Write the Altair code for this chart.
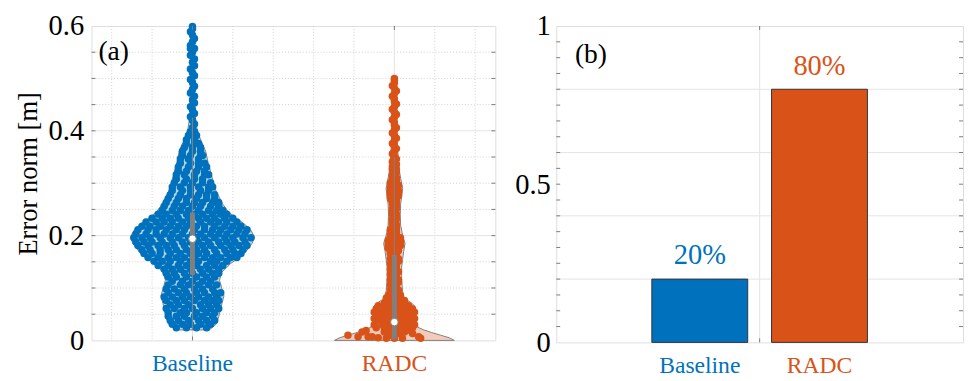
import altair as alt
import pandas as pd

BLUE = "#0072BD"
ORANGE = "#D95319"
BLUE_LIGHT = "#B3D5EB"
ORANGE_LIGHT = "#F4CBBA"
GRAY = "#808080"
FRAME = "#7a7a7a"
GRID = "#e3e3e3"
MINOR = "#cfcfcf"
FONT = "Liberation Serif"

groups = ["Baseline", "RADC"]
group_pos = [1, 2]
group_colors = [BLUE, ORANGE]
group_light = [BLUE_LIGHT, ORANGE_LIGHT]

# violin outlines (y level, half width in x units)
base_outline_y = [0.02, 0.03, 0.045, 0.07, 0.085, 0.10, 0.115, 0.13, 0.147, 0.16, 0.172, 0.185,
                  0.197, 0.21, 0.222, 0.235, 0.247, 0.26, 0.285, 0.30, 0.322, 0.34, 0.36, 0.375,
                  0.39, 0.405, 0.422, 0.45, 0.5, 0.55, 0.6]
base_outline_hw = [0.083, 0.115, 0.13, 0.146, 0.156, 0.145, 0.134, 0.145, 0.19, 0.24, 0.27, 0.295,
                   0.307, 0.29, 0.258, 0.21, 0.175, 0.15, 0.117, 0.105, 0.09, 0.077, 0.066, 0.05,
                   0.033, 0.022, 0.015, 0.012, 0.011, 0.011, 0.01]
radc_outline_y = [0.0, 0.005, 0.01, 0.015, 0.02, 0.025, 0.035, 0.05, 0.065, 0.072, 0.078, 0.085,
                  0.10, 0.12, 0.14, 0.155, 0.17, 0.185, 0.20, 0.22, 0.24, 0.26, 0.28, 0.29, 0.30,
                  0.32, 0.35, 0.38, 0.42, 0.5]
radc_outline_hw = [0.297, 0.272, 0.229, 0.185, 0.146, 0.117, 0.107, 0.102, 0.102, 0.083, 0.058,
                   0.044, 0.039, 0.036, 0.036, 0.041, 0.046, 0.053, 0.041, 0.031, 0.029, 0.031,
                   0.038, 0.041, 0.036, 0.026, 0.019, 0.014, 0.012, 0.009]

# scatter samples: (error norm, horizontal offsets in hundredths of a category)
base_rows = [
    (0.024, [-8, -3, 2, 7]), (0.031, [-10, -5, -1, 4, 9]), (0.038, [-11, -7, -2, 3, 7, 11]),
    (0.046, [-12, -8, -4, 1, 5, 10]), (0.053, [-12, -6, -3, 2, 7, 11]),
    (0.061, [-13, -9, -4, 0, 5, 9, 13]), (0.068, [-11, -7, -2, 4, 8, 12]),
    (0.076, [-13, -8, -4, 1, 6, 10, 13]), (0.083, [-14, -10, -5, -1, 3, 8, 12]),
    (0.091, [-12, -7, -3, 2, 6, 11, 14]), (0.098, [-13, -9, -4, 1, 5, 10]),
    (0.106, [-12, -6, -2, 3, 8, 12]), (0.113, [-10, -5, 0, 5, 9]),
    (0.121, [-12, -8, -3, 2, 7, 11]), (0.128, [-13, -9, -4, 0, 5, 10, 13]),
    (0.136, [-14, -10, -6, -1, 4, 8, 13]), (0.143, [-17, -12, -7, -3, 2, 7, 11, 15]),
    (0.151, [-19, -15, -11, -6, -1, 3, 9, 12, 17]),
    (0.158, [-22, -17, -12, -8, -4, 1, 6, 10, 14, 19, 22]),
    (0.166, [-24, -20, -16, -11, -6, -1, 3, 7, 12, 17, 21, 24]),
    (0.173, [-25, -21, -16, -12, -8, -3, 2, 6, 11, 16, 20, 25]),
    (0.181, [-27, -22, -17, -13, -9, -4, 1, 5, 9, 14, 19, 23, 27]),
    (0.188, [-28, -24, -20, -15, -10, -5, -1, 3, 8, 13, 17, 21, 26]),
    (0.196, [-29, -25, -21, -16, -11, -7, -2, 2, 6, 11, 16, 20, 25, 29]),
    (0.203, [-28, -23, -18, -14, -10, -5, 0, 4, 9, 13, 17, 22, 26]),
    (0.211, [-27, -22, -18, -13, -8, -4, 1, 6, 10, 14, 19, 23, 27]),
    (0.218, [-25, -21, -16, -11, -7, -3, 2, 6, 11, 16, 20, 24]),
    (0.226, [-23, -18, -14, -10, -5, -1, 4, 9, 13, 17, 22]),
    (0.233, [-20, -15, -11, -7, -2, 3, 7, 11, 16, 20]),
    (0.241, [-17, -13, -8, -3, 1, 5, 10, 14, 17]),
    (0.248, [-15, -10, -6, -2, 3, 8, 12, 15]), (0.256, [-14, -9, -5, 0, 4, 9, 13]),
    (0.263, [-13, -8, -3, 1, 5, 10, 13]), (0.271, [-12, -7, -3, 2, 7, 11]),
    (0.278, [-11, -6, -1, 3, 7, 11]), (0.286, [-10, -5, -1, 4, 8]),
    (0.293, [-10, -6, -1, 3, 8, 10]), (0.301, [-9, -4, 0, 5, 9]), (0.308, [-8, -3, 1, 5]),
    (0.316, [-8, -4, 1, 6, 8]), (0.323, [-7, -3, 2, 6]), (0.331, [-7, -2, 3, 7]),
    (0.338, [-6, -1, 3, 6]), (0.346, [-6, -2, 3]), (0.353, [-5, -1, 4, 5]), (0.361, [-5, 0, 4]),
    (0.368, [-4, 0, 4]), (0.376, [-3, 1, 3]), (0.383, [-3, 1]), (0.391, [-2, 2]),
    (0.398, [-1, 1]), (0.406, [0]), (0.413, [1]),
    (0.420, [0]), (0.427, [-1]), (0.433, [1]), (0.440, [0]), (0.446, [-1]), (0.453, [1]),
    (0.459, [0]), (0.466, [1]), (0.472, [-1]), (0.479, [0]), (0.485, [1]), (0.492, [0]),
    (0.498, [-1]), (0.505, [1]), (0.511, [0]), (0.518, [-1]), (0.524, [1]), (0.531, [0]),
    (0.537, [1]), (0.544, [-1]), (0.550, [0]), (0.557, [1, -1]), (0.563, [-1]), (0.570, [0]),
    (0.576, [1]), (0.583, [0]), (0.589, [-1]), (0.595, [0]), (0.599, [0]),
]
radc_rows = [
    (0.004, [-4, 0, 4, 13]), (0.005, [-8]), (0.007, [-18, -13, -11, 12]), (0.010, [-23, -2]),
    (0.013, [2, 9]), (0.016, [-16, -5, 5]), (0.019, [-14, -3, 8]),
    (0.024, [-9, -5, -2, 2, 5, 9]), (0.030, [-10, -6, -3, 1, 4, 8, 10]),
    (0.036, [-9, -5, -2, 2, 6, 9]), (0.042, [-10, -7, -3, 0, 4, 7, 10]),
    (0.048, [-9, -6, -2, 1, 5, 9]), (0.054, [-10, -6, -3, 1, 4, 8, 10]),
    (0.060, [-9, -5, -2, 2, 6, 9]), (0.066, [-8, -4, -1, 3, 7]), (0.071, [-5, -2, 2, 5]),
    (0.076, [-4, -1, 2, 5]), (0.081, [-4, 0, 3]), (0.086, [-3, 0, 3]), (0.091, [-2, 1]),
    (0.096, [-2, 0, 2]), (0.101, [-1, 1]), (0.106, [-2, 1]), (0.111, [-1, 2]),
    (0.116, [-2, 0, 2]), (0.121, [-1, 1]), (0.126, [-2, 1]), (0.131, [-1, 2]),
    (0.136, [-2, 0, 1]), (0.141, [-1, 1]), (0.146, [-2, 1]), (0.151, [-1, 2]),
    (0.156, [-2, 0, 2]), (0.161, [-1, 1]), (0.166, [-2, 1]), (0.171, [-2, 2]),
    (0.176, [-3, 0, 2]), (0.181, [-3, 0, 3]), (0.186, [-3, -1, 2, 3]), (0.191, [-3, 0, 3]),
    (0.196, [-2, 1, 3]), (0.201, [-2, 1]), (0.206, [-1, 1]), (0.211, [-2, 1]),
    (0.216, [-1, 1]), (0.221, [-1, 1]), (0.226, [-1, 0]), (0.231, [-1, 1]), (0.236, [0, 1]),
    (0.241, [-1, 1]), (0.246, [-1, 0]), (0.251, [-1, 1]), (0.256, [0, 1]), (0.261, [-1, 1]),
    (0.266, [-1, 1]), (0.271, [-2, 1]), (0.276, [-2, 0, 2]), (0.281, [-2, 1, 2]),
    (0.286, [-2, 0, 2]), (0.291, [-2, 1]), (0.296, [-1, 2]), (0.301, [-2, 1]),
    (0.306, [-1, 1]), (0.311, [-1, 1]), (0.316, [-1, 0]), (0.321, [0, 1]), (0.326, [-1, 1]),
    (0.331, [-1, 0]), (0.336, [0, 1]), (0.341, [-1, 0]), (0.346, [0, 1]), (0.351, [0]),
    (0.356, [-1]), (0.361, [0]), (0.366, [1]), (0.371, [0]), (0.376, [-1]), (0.381, [0]),
    (0.386, [1]), (0.391, [0]), (0.396, [-1]), (0.401, [0]), (0.406, [1]), (0.411, [0]),
    (0.416, [0]), (0.421, [-1]), (0.426, [0]), (0.431, [1]), (0.436, [0]), (0.441, [-1]),
    (0.446, [0]), (0.451, [1]), (0.456, [0]), (0.461, [0]), (0.466, [-1]), (0.471, [0]),
    (0.476, [1]), (0.481, [0]), (0.486, [-1]), (0.491, [0]), (0.496, [0]), (0.500, [0]),
]

# box statistics
box_q1 = [0.125, 0.003]
box_q3 = [0.244, 0.163]
box_med = [0.194, 0.035]
whisk_lo = [0.02, 0.0]
whisk_hi = [0.425, 0.35]

# panel (b)
bar_labels = ["Baseline", "RADC"]
bar_values = [0.2, 0.8]
bar_texts = ["20%", "80%"]
bar_pos = [0.794, 1.206]
bar_half = 0.165

a_major_y = [0.2, 0.4]
a_minor_y = [0.05, 0.1, 0.15, 0.25, 0.3, 0.35, 0.45, 0.5, 0.55]
a_major_x = [1, 2]
a_minor_x = [0.6, 0.8, 1.2, 1.4, 1.6, 1.8, 2.2, 2.4]
a_ticks_y = [0.05, 0.1, 0.15, 0.2, 0.25, 0.3, 0.35, 0.4, 0.45, 0.5, 0.55]
b_major_y = [0.2, 0.4, 0.6, 0.8]
b_ticks_y = [0.05, 0.1, 0.15, 0.2, 0.25, 0.3, 0.35, 0.4, 0.45, 0.5, 0.55, 0.6, 0.65, 0.7,
             0.75, 0.8, 0.85, 0.9, 0.95]

WA, HA = 411, 320
WB, HB = 414, 322

xs_a = alt.Scale(domain=[0.5, 2.5], nice=False, zero=False)
ys_a = alt.Scale(domain=[0, 0.6], nice=False, zero=False)
xs_b = alt.Scale(domain=[0.3, 1.7], nice=False, zero=False)
ys_b = alt.Scale(domain=[0, 1], nice=False, zero=False)

XA = alt.Axis(labels=False, ticks=False, domain=False, grid=False, title=None)
YA = alt.Axis(values=[0, 0.2, 0.4, 0.6], format="~g", labelFont=FONT, labelFontSize=29,
              labelColor="black", labelPadding=8, ticks=False, domain=False, grid=False,
              title="Error norm [m]", titleFont=FONT, titleFontSize=27, titleFontWeight="normal",
              titleColor="black", titlePadding=6, minExtent=44, maxExtent=44, titleY=150)
XB = alt.Axis(labels=False, ticks=False, domain=False, grid=False, title=None)
YB = alt.Axis(values=[0, 0.5, 1], format="~g", labelFont=FONT, labelFontSize=29,
              labelColor="black", labelPadding=6, ticks=False, domain=False, grid=False,
              title=None, minExtent=40, maxExtent=40)
TA = "Error norm [m]"


def ya(field):
    return alt.Y(field, scale=ys_a, axis=YA, title=TA)


def xa(field):
    return alt.X(field, scale=xs_a, axis=XA, title=None)


def yb(field):
    return alt.Y(field, scale=ys_b, axis=YB, title=None)


def xb(field):
    return alt.X(field, scale=xs_b, axis=XB, title=None)


def rules_y(vals, yenc, dash=None, color=GRID):
    kw = {"strokeDash": dash} if dash else {}
    return alt.Chart(pd.DataFrame({"y": vals})).mark_rule(color=color, strokeWidth=1, **kw).encode(
        y=yenc("y:Q"))


def rules_x(vals, xenc, dash=None, color=GRID):
    kw = {"strokeDash": dash} if dash else {}
    return alt.Chart(pd.DataFrame({"x": vals})).mark_rule(color=color, strokeWidth=1, **kw).encode(
        x=xenc("x:Q"))


def inner_ticks(vals, yenc, w):
    df = pd.DataFrame({"y": vals})
    left = alt.Chart(df).mark_rule(color=FRAME, strokeWidth=1).encode(
        y=yenc("y:Q"), x=alt.value(0), x2=alt.value(4))
    right = alt.Chart(df).mark_rule(color=FRAME, strokeWidth=1).encode(
        y=yenc("y:Q"), x=alt.value(w - 4), x2=alt.value(w))
    return [left, right]


def x_ticks(vals, xenc, h):
    df = pd.DataFrame({"x": vals})
    bot = alt.Chart(df).mark_rule(color=FRAME, strokeWidth=1).encode(
        x=xenc("x:Q"), y=alt.value(h - 4), y2=alt.value(h))
    top = alt.Chart(df).mark_rule(color=FRAME, strokeWidth=1).encode(
        x=xenc("x:Q"), y=alt.value(0), y2=alt.value(4))
    return [bot, top]


def x_labels(positions, xenc, h):
    out = []
    for i in range(2):
        d = pd.DataFrame({"x": [positions[i]], "t": [groups[i]]})
        out.append(alt.Chart(d).mark_text(font=FONT, fontSize=24, baseline="alphabetic",
                                          color=group_colors[i]).encode(
            x=xenc("x:Q"), y=alt.value(h + 31), text="t:N"))
    return out


# ---------- panel (a)
layers_a = [
    rules_x(a_minor_x, xa, dash=[1, 2], color=MINOR),
    rules_y(a_minor_y, ya, dash=[1, 2], color=MINOR),
    rules_x(a_major_x, xa),
    rules_y(a_major_y, ya),
]

outlines = [(base_outline_y, base_outline_hw), (radc_outline_y, radc_outline_hw)]
for i, (oy, ohw) in enumerate(outlines):
    c = group_pos[i]
    df = pd.DataFrame({"y": oy, "x": [c - h for h in ohw], "x2": [c + h for h in ohw]})
    layers_a.append(alt.Chart(df).mark_area(orient="horizontal", fill=group_light[i], stroke=GRAY,
                                            strokeWidth=1, opacity=1).encode(
        y=ya("y:Q"), x=xa("x:Q"), x2="x2:Q"))

for i, rows in enumerate([base_rows, radc_rows]):
    c = group_pos[i]
    py, px = [], []
    for yv, offs in rows:
        for o in offs:
            py.append(yv)
            px.append(c + o / 100)
    df = pd.DataFrame({"x": px, "y": py})
    layers_a.append(alt.Chart(df).mark_circle(size=58, color=group_colors[i], opacity=1).encode(
        x=xa("x:Q"), y=ya("y:Q")))

box_df = pd.DataFrame({"x": group_pos, "q1": box_q1, "q3": box_q3, "med": box_med,
                       "lo": whisk_lo, "hi": whisk_hi})
layers_a.append(alt.Chart(box_df).mark_rule(color=GRAY, strokeWidth=1.2).encode(
    x=xa("x:Q"), y=ya("lo:Q"), y2="hi:Q"))
layers_a.append(alt.Chart(box_df).mark_rule(color=GRAY, strokeWidth=5).encode(
    x=xa("x:Q"), y=ya("q1:Q"), y2="q3:Q"))
layers_a.append(alt.Chart(box_df).mark_circle(size=60, color="white", opacity=1, stroke=GRAY,
                                             strokeWidth=1).encode(
    x=xa("x:Q"), y=ya("med:Q")))
layers_a += inner_ticks(a_ticks_y, ya, WA)
layers_a += x_ticks(a_major_x, xa, HA)
layers_a += x_labels(group_pos, xa, HA)
layers_a.append(alt.Chart(pd.DataFrame({"t": ["(a)"]})).mark_text(
    font=FONT, fontSize=28, align="left", baseline="alphabetic", color="black").encode(
    x=alt.value(7), y=alt.value(35), text="t:N"))

panel_a = alt.layer(*layers_a).properties(width=WA, height=HA)

# ---------- panel (b)
layers_b = [
    rules_y(b_major_y, yb),
    rules_x([1], xb),
]
bar_df = pd.DataFrame({"g": bar_labels, "pos": bar_pos, "v": bar_values, "t": bar_texts,
                       "x": [p - bar_half for p in bar_pos], "x2": [p + bar_half for p in bar_pos],
                       "zero": [0, 0]})
for i in range(2):
    d = bar_df.iloc[[i]]
    layers_b.append(alt.Chart(d).mark_bar(color=group_colors[i], stroke="#333333", strokeWidth=1,
                                          opacity=1).encode(
        x=xb("x:Q"), x2="x2:Q", y=yb("v:Q"), y2="zero:Q"))
    layers_b.append(alt.Chart(d).mark_text(font=FONT, fontSize=29, baseline="alphabetic", dy=-15,
                                           color=group_colors[i]).encode(
        x=xb("pos:Q"), y=yb("v:Q"), text="t:N"))
layers_b += inner_ticks(b_ticks_y, yb, WB)
layers_b += x_ticks([1], xb, HB)
layers_b += x_labels(bar_pos, xb, HB)
layers_b.append(alt.Chart(pd.DataFrame({"t": ["(b)"]})).mark_text(
    font=FONT, fontSize=28, align="left", baseline="alphabetic", color="black").encode(
    x=alt.value(19), y=alt.value(38), text="t:N"))

panel_b = alt.layer(*layers_b).properties(width=WB, height=HB)

chart = alt.hconcat(panel_a, panel_b, spacing=18).properties(
    padding={"left": 6, "top": 0, "right": 0, "bottom": 0}
).configure_view(stroke=FRAME, strokeWidth=1).configure_axis(
    labelFont=FONT, titleFont=FONT).configure_text(font=FONT).configure(background="white")

chart.save("out.html", embed_options={"renderer": "svg", "actions": False})
